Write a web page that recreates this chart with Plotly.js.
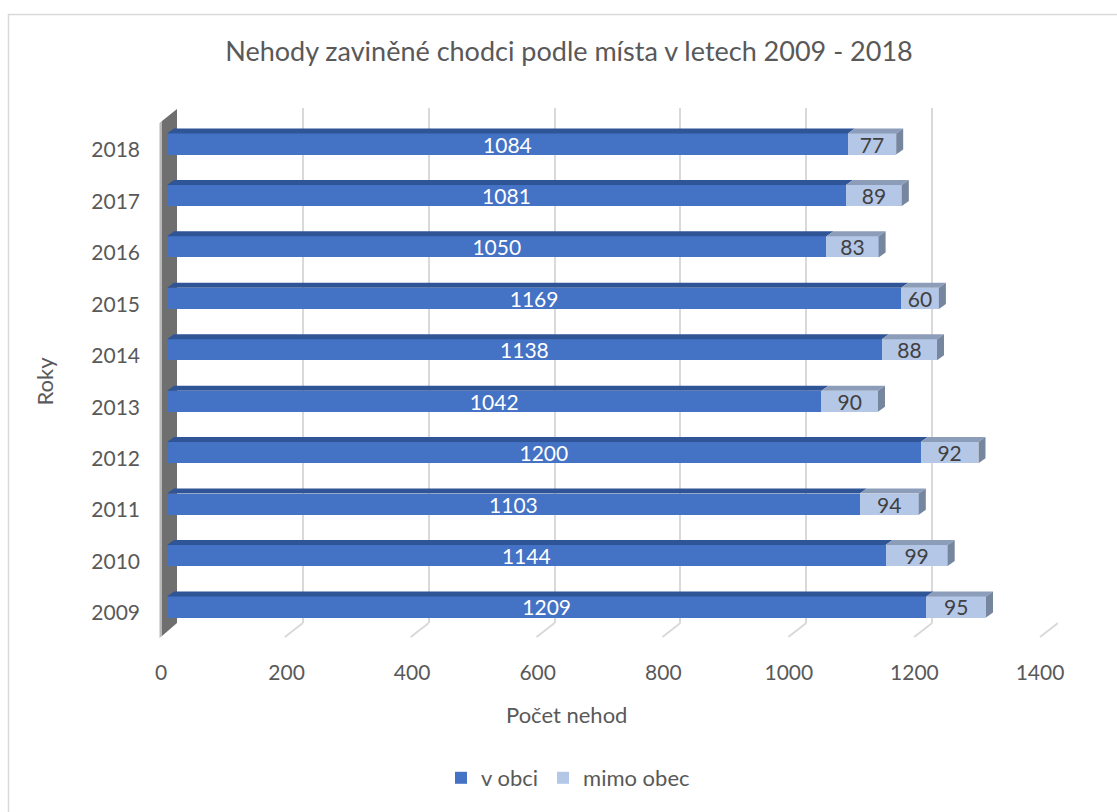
<!DOCTYPE html>
<html><head><meta charset="utf-8">
<script src="https://cdn.plot.ly/plotly-3.0.1.min.js"></script>
<style>html,body{margin:0;padding:0;background:#fff;}#chart{width:1117px;height:812px;}</style>
</head><body><div id="chart"></div>
<script>
// ---- data ----
const years = [2009, 2010, 2011, 2012, 2013, 2014, 2015, 2016, 2017, 2018];
const vObci = [1209, 1144, 1103, 1200, 1042, 1138, 1169, 1050, 1081, 1084];
const mimoObec = [95, 99, 94, 92, 90, 88, 60, 83, 89, 77];
const seriesNames = ['v obci', 'mimo obec'];
const xTicks = [0, 200, 400, 600, 800, 1000, 1200, 1400];
const chartTitle = 'Nehody zaviněné chodci podle místa v letech 2009 - 2018';
const xTitle = 'Počet nehod';
const yTitle = 'Roky';

// ---- geometry / style ----
const W = 1117, H = 812;
const L = 161, R = 1058, T = 108, B = 640;
const PW = R - L, PH = B - T;
const px2x = p => (p - L) / PW;
const py2y = p => (B - p) / PH;
const FONT = 'Lato, "Open Sans", sans-serif';
const TXT = '#595959';
const C1 = '#4472C4', C2 = '#B4C7E7';
const C1top = '#2F5597', C2top = '#8C9DB9', C2side = '#76869F';
const barW = 0.41;
const xmax = 1400;
// bars axis: 0 at 167px, 1400 at 1046px
const barX0 = 167, barX1 = 1046.3;
const unitPx = (barX1 - barX0) / xmax;
const depthDx = 7 / unitPx;          // 3D depth in data units (x)
const depthDy = 5 / 51.44;           // 3D depth in data units (y)
const gridX0 = 177, gridX1 = 1058;

const traces = [
  { type: 'scatter', x: [], y: [], xaxis: 'x', yaxis: 'y', showlegend: false, hoverinfo: 'skip' },
  {
    type: 'bar', orientation: 'h', name: seriesNames[0], x: vObci, y: years,
    xaxis: 'x2', yaxis: 'y2', width: barW,
    marker: { color: C1, line: { width: 0 } },
    text: vObci.map(String), textposition: 'inside', insidetextanchor: 'middle',
    constraintext: 'none', textangle: 0,
    insidetextfont: { family: FONT, size: 21, color: '#ffffff' },
    hoverinfo: 'x+name'
  },
  {
    type: 'bar', orientation: 'h', name: seriesNames[1], x: mimoObec, y: years,
    xaxis: 'x2', yaxis: 'y2', width: barW,
    marker: { color: C2, line: { width: 0 } },
    text: mimoObec.map(String), textposition: 'inside', insidetextanchor: 'middle',
    constraintext: 'none', textangle: 0,
    insidetextfont: { family: FONT, size: 21, color: '#404040' },
    hoverinfo: 'x+name'
  },
  { type: 'scatter', x: [], y: [], xaxis: 'x3', yaxis: 'y3', showlegend: false, hoverinfo: 'skip' }
];

// 3D faces computed from the data
const shapes = [];
years.forEach((yr, i) => {
  const top = yr + barW / 2, bot = yr - barW / 2;
  const a = vObci[i], b = vObci[i] + mimoObec[i];
  shapes.push({ type: 'path', xref: 'x2', yref: 'y2', layer: 'above', line: { width: 0 }, fillcolor: C1top,
    path: `M 0,${top} L ${a},${top} L ${a + depthDx},${top + depthDy} L ${depthDx},${top + depthDy} Z` });
  shapes.push({ type: 'path', xref: 'x2', yref: 'y2', layer: 'above', line: { width: 0 }, fillcolor: C2top,
    path: `M ${a},${top} L ${b},${top} L ${b + depthDx},${top + depthDy} L ${a + depthDx},${top + depthDy} Z` });
  shapes.push({ type: 'path', xref: 'x2', yref: 'y2', layer: 'above', line: { width: 0 }, fillcolor: C2side,
    path: `M ${b},${top} L ${b + depthDx},${top + depthDy} L ${b + depthDx},${bot + depthDy} L ${b},${bot} Z` });
});
// floor diagonals of gridlines
const floorDx = -18 * xmax / (gridX1 - gridX0);
xTicks.slice(1).forEach(v => {
  shapes.push({ type: 'line', xref: 'x', yref: 'paper', layer: 'below', x0: v, x1: v + floorDx,
    y0: py2y(623), y1: py2y(637), line: { color: '#d9d9d9', width: 2 } });
});
// left wall
shapes.push({ type: 'path', xref: 'paper', yref: 'paper', layer: 'below', line: { width: 0 }, fillcolor: '#6f6f6f',
  path: `M ${px2x(162)},${py2y(121)} L ${px2x(177)},${py2y(109)} L ${px2x(177)},${py2y(623)} L ${px2x(162)},${py2y(636)} Z` });
shapes.push({ type: 'path', xref: 'paper', yref: 'paper', layer: 'below', line: { width: 0 }, fillcolor: '#b8b8b8',
  path: `M ${px2x(159.5)},${py2y(123)} L ${px2x(162)},${py2y(121)} L ${px2x(162)},${py2y(636)} L ${px2x(159.5)},${py2y(638)} Z` });
// outer chart border (left & top visible)
shapes.push({ type: 'line', xref: 'paper', yref: 'paper', x0: px2x(8.5), x1: px2x(8.5), y0: py2y(14), y1: py2y(812),
  line: { color: '#d9d9d9', width: 1.5 } });
shapes.push({ type: 'line', xref: 'paper', yref: 'paper', x0: px2x(8), x1: px2x(1117), y0: py2y(14.5), y1: py2y(14.5),
  line: { color: '#d9d9d9', width: 1.5 } });

const layout = {
  width: W, height: H, autosize: false,
  margin: { l: L, r: W - R, t: T, b: H - B, pad: 0 },
  paper_bgcolor: '#ffffff', plot_bgcolor: 'rgba(0,0,0,0)',
  font: { family: FONT, color: TXT, size: 21 },
  barmode: 'stack',
  title: { text: chartTitle, font: { family: FONT, size: 27, color: TXT },
    xref: 'container', yref: 'container', x: 569 / W, y: 1 - 52 / H, xanchor: 'center', yanchor: 'middle' },
  // back plane (gridlines)
  xaxis: { domain: [px2x(gridX0), 1], range: [0, xmax], anchor: 'y', tickvals: xTicks,
    showgrid: true, gridcolor: '#d9d9d9', gridwidth: 2, showticklabels: false, zeroline: false, showline: false, ticks: '', fixedrange: true },
  yaxis: { domain: [py2y(623), 1], range: [0, 1], anchor: 'x', showgrid: false, showticklabels: false, zeroline: false, showline: false, ticks: '', fixedrange: true },
  // front plane (bars)
  xaxis2: { domain: [px2x(barX0), px2x(barX1)], range: [0, xmax], anchor: 'y2', showgrid: false, showticklabels: false, zeroline: false, showline: false, ticks: '', fixedrange: true },
  yaxis2: { domain: [py2y(632.7), py2y(118.3)], range: [2008.5, 2018.5], anchor: 'x2', showgrid: false, showticklabels: false, zeroline: false, showline: false, ticks: '', fixedrange: true },
  // label axes
  xaxis3: { domain: [px2x(161), px2x(1040)], range: [0, xmax], anchor: 'y3', tickvals: xTicks, ticktext: xTicks.map(String),
    showgrid: false, zeroline: false, showline: false, ticks: '', ticklabelstandoff: 19,
    tickfont: { family: FONT, size: 21, color: TXT }, fixedrange: true },
  yaxis3: { domain: [py2y(638.7), py2y(124.3)], range: [2008.5, 2018.5], anchor: 'x3', tickvals: years, ticktext: years.map(String),
    showgrid: false, zeroline: false, showline: false, ticks: '', ticklabelstandoff: 20,
    tickfont: { family: FONT, size: 21, color: TXT }, fixedrange: true,
    title: { text: yTitle, font: { family: FONT, size: 22, color: TXT }, standoff: 31 } },
  annotations: [
    { text: xTitle, xref: 'paper', yref: 'paper', x: px2x(566), y: py2y(714), xanchor: 'center', yanchor: 'middle',
      showarrow: false, font: { family: FONT, size: 22, color: TXT } }
  ],
  legend: { orientation: 'h', xref: 'container', yref: 'container', x: 568 / W, y: 1 - 778 / H,
    xanchor: 'center', yanchor: 'middle', font: { family: FONT, size: 22, color: TXT },
    traceorder: 'normal', itemwidth: 30, bgcolor: 'rgba(0,0,0,0)' },
  shapes: shapes,
  showlegend: true
};

Plotly.newPlot('chart', traces, layout, { displayModeBar: false, staticPlot: true });
</script></body></html>
